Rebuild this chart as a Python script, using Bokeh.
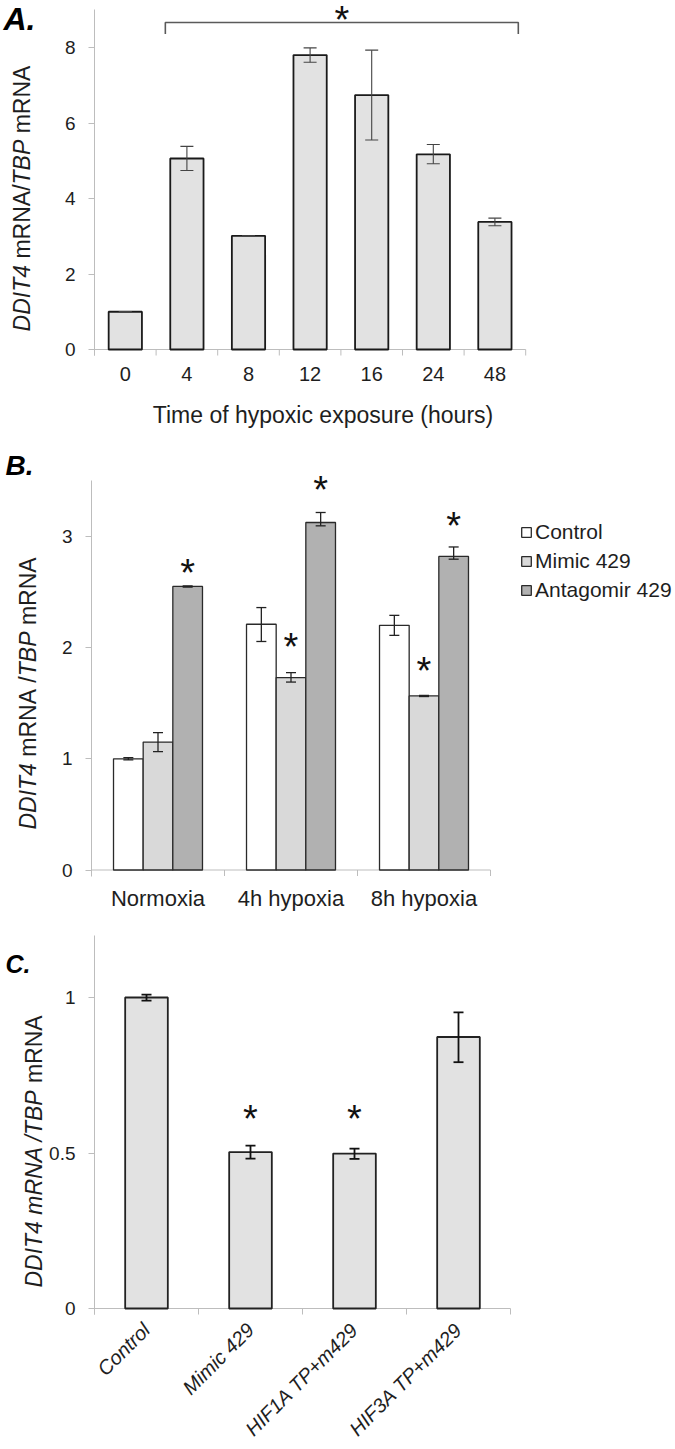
import math
from bokeh.plotting import figure
from bokeh.models import (Range1d, FixedTicker, LinearAxis, ColumnDataSource, Whisker,
                          TeeHead, Label, LabelSet, Legend, LegendItem)
from bokeh.layouts import column
from bokeh.embed import file_html
from bokeh.resources import INLINE
from bokeh.core.properties import value

# ---------------- data ----------------
a_categories = ["0", "4", "8", "12", "16", "24", "48"]
a_values = [1.00, 5.06, 3.01, 7.80, 6.74, 5.17, 3.38]
a_err_low = [0.995, 4.74, 3.005, 7.61, 5.55, 4.92, 3.28]
a_err_high = [1.005, 5.38, 3.015, 7.99, 7.93, 5.43, 3.48]
a_yticks = [0, 2, 4, 6, 8]
a_ymax = 9.0
a_xtitle = "Time of hypoxic exposure (hours)"

b_groups = ["Normoxia", "4h hypoxia", "8h hypoxia"]
b_series = ["Control", "Mimic 429", "Antagomir 429"]
b_control = [1.00, 2.21, 2.20]
b_control_low = [0.99, 2.055, 2.11]
b_control_high = [1.01, 2.36, 2.29]
b_mimic = [1.15, 1.73, 1.565]
b_mimic_low = [1.065, 1.69, 1.56]
b_mimic_high = [1.235, 1.775, 1.57]
b_antago = [2.55, 3.125, 2.82]
b_antago_low = [2.545, 3.095, 2.795]
b_antago_high = [2.555, 3.215, 2.905]
b_yticks = [0, 1, 2, 3]
b_ymax = 3.5
b_star_series = [2, 1, 2, 1, 2]
b_star_group = [0, 1, 1, 2, 2]
b_star_y = [2.73, 2.06, 3.48, 1.85, 3.15]

c_categories = ["Control", "Mimic 429", "HIF1A TP+m429", "HIF3A TP+m429"]
c_values = [1.00, 0.503, 0.498, 0.873]
c_err_low = [0.99, 0.482, 0.481, 0.792]
c_err_high = [1.009, 0.524, 0.514, 0.952]
c_yticks = [0, 0.5, 1]
c_ytick_labels = ["0", "0.5", "1"]
c_ymax = 1.2
c_star_index = [1, 2]
c_star_y = [0.63, 0.63]

# ---------------- style ----------------
FONT = "Liberation Sans"
TXT = "#1e1e1e"
AXIS = "#bdbdbd"
W = 675

CW = {' ': 278, '/': 278, '+': 584, '4': 556, 'A': 667, 'B': 667, 'D': 722, 'I': 278,
      'N': 722, 'P': 667, 'R': 722, 'T': 611, 'm': 833}


def tw(s, size):
    return sum(CW[c] for c in s) / 1000.0 * size


class Panel:
    """Figure whose frame fills the whole canvas; axes sit at fixed data locations."""

    def __init__(self, fig_top, height, axis_left, ppx, y0_page, ppy):
        self.axis_left, self.ppx, self.y0, self.ppy = axis_left, ppx, y0_page, ppy
        x_start = -axis_left / ppx
        x_end = (W - axis_left) / ppx
        y_end = (y0_page - fig_top) / ppy
        y_start = -(fig_top + height - y0_page) / ppy
        self.ylo = -6.0 / ppy  # axis extends 6px below zero (Excel-like)
        p = figure(width=W, height=height, output_backend="svg", toolbar_location=None,
                   x_range=Range1d(x_start, x_end), y_range=Range1d(y_start, y_end),
                   x_axis_type=None, y_axis_type=None, min_border=0,
                   min_border_left=0, min_border_right=0, min_border_top=0,
                   min_border_bottom=0)
        p.outline_line_color = None
        p.background_fill_color = "white"
        p.border_fill_color = "white"
        self.p = p

    def fx(self, px):
        return (px - self.axis_left) / self.ppx

    def fy(self, py):
        return (self.y0 - py) / self.ppy


def add_yaxis(pn, ticks, top, overrides=None):
    ax = LinearAxis(ticker=FixedTicker(ticks=ticks), fixed_location=0, bounds=(pn.ylo, top))
    ax.axis_line_color = AXIS
    ax.major_tick_line_color = AXIS
    ax.major_tick_out = 6
    ax.major_tick_in = 0
    ax.minor_tick_line_color = None
    ax.major_label_text_font = FONT
    ax.major_label_text_font_size = "19px"
    ax.major_label_text_color = TXT
    ax.major_label_standoff = 13
    if overrides:
        ax.major_label_overrides = overrides
    pn.p.add_layout(ax, "left")


def add_xaxis(pn, labels, size, standoff, orientation="horizontal", style="normal"):
    ticks = [i + 0.5 for i in range(len(labels))]
    ax = LinearAxis(ticker=FixedTicker(ticks=ticks), fixed_location=pn.ylo,
                    major_label_overrides={t: l for t, l in zip(ticks, labels)})
    ax.axis_line_color = None
    ax.major_tick_line_color = None
    ax.major_tick_out = 0
    ax.major_tick_in = 0
    ax.minor_tick_line_color = None
    ax.major_label_text_font = FONT
    ax.major_label_text_font_size = f"{size}px"
    ax.major_label_text_font_style = style
    ax.major_label_text_color = TXT
    ax.major_label_standoff = standoff
    ax.major_label_orientation = orientation
    pn.p.add_layout(ax, "below")
    # baseline and category boundary ticks (Excel style)
    n = len(labels)
    pn.p.segment(x0=[0], y0=[0], x1=[n], y1=[0], line_color=AXIS, line_width=1)
    pn.p.segment(x0=list(range(n + 1)), y0=[0] * (n + 1), x1=list(range(n + 1)),
                 y1=[pn.ylo] * (n + 1), line_color=AXIS, line_width=1)


def add_ylabel(pn, pieces, x_page, y_center_page, size=23):
    widths = [tw(t, size) for t, _ in pieces]
    y = pn.fy(y_center_page) - sum(widths) / 2.0 / pn.ppy
    for (t, st), w in zip(pieces, widths):
        lead = len(t) - len(t.lstrip(' '))
        pn.p.add_layout(Label(x=pn.fx(x_page), y=y + tw(' ', size) * lead / pn.ppy,
                              text=t.strip(' '), angle=math.pi / 2,
                              text_align="left", text_baseline="middle",
                              text_font=FONT, text_font_style=st,
                              text_font_size=f"{size}px", text_color=TXT))
        y += w / pn.ppy


def add_letter(pn, letter, left_page, center_page, size):
    pn.p.add_layout(Label(x=pn.fx(left_page), y=pn.fy(center_page), text=letter,
                          text_align="left", text_baseline="middle",
                          text_font=FONT, text_font_style="bold italic",
                          text_font_size=f"{size}px", text_color="#000000"))


STAR_SIZE = 38
STAR_SHIFT = 6.5  # px between text middle anchor and asterisk centre (anchor lies below)


def add_stars(pn, xs, ys):
    src = ColumnDataSource(dict(x=xs, y=[v - STAR_SHIFT / pn.ppy for v in ys], t=["*"] * len(xs)))
    pn.p.add_layout(LabelSet(x="x", y="y", text="t", source=src, text_align="center",
                             text_baseline="middle", text_font=value(FONT),
                             text_font_size=f"{STAR_SIZE}px", text_color="#111111"))


def add_whiskers(pn, xs, lo, hi, size, color, width):
    src = ColumnDataSource(dict(x=xs, lo=lo, hi=hi))
    pn.p.add_layout(Whisker(source=src, base="x", lower="lo", upper="hi", level="overlay",
                            line_color=color, line_width=width,
                            lower_head=TeeHead(size=size, line_color=color, line_width=width),
                            upper_head=TeeHead(size=size, line_color=color, line_width=width)))


# ================= Panel A =================
A = Panel(fig_top=0, height=440, axis_left=94, ppx=61.6, y0_page=349, ppy=37.75)
pa = A.p
add_yaxis(A, a_yticks, a_ymax)
add_xaxis(A, a_categories, 20, 11)
a_x = [i + 0.5 for i in range(len(a_categories))]
pa.vbar(x=a_x, top=a_values, bottom=0, width=0.54, fill_color="#e2e2e2",
        line_color="#1a1a1a", line_width=1.8)
add_whiskers(A, a_x, a_err_low, a_err_high, 13, "#444444", 1.1)
# significance bracket over 4..48 h
bx0, bx1 = 1.15, len(a_categories) - 0.12
pa.multi_line(xs=[[bx0, bx0, bx1, bx1]],
              ys=[[A.fy(33.5), A.fy(22), A.fy(22), A.fy(33.5)]],
              line_color="#5a5a5a", line_width=1.6)
add_stars(A, [(bx0 + bx1) / 2.0], [A.fy(12.5)])
pa.add_layout(Label(x=A.fx(322.5), y=A.fy(414.5), text=a_xtitle, text_align="center",
                    text_baseline="middle", text_font=FONT, text_font_size="23px",
                    text_color=TXT))
add_ylabel(A, [("DDIT4", "italic"), (" mRNA/", "normal"), ("TBP", "italic"), (" mRNA", "normal")],
           21, 198)
add_letter(A, "A.", 3, 18.5, 32)

# ================= Panel B =================
B = Panel(fig_top=440, height=472, axis_left=91, ppx=133, y0_page=869.5, ppy=111.2)
pb = B.p
add_yaxis(B, b_yticks, b_ymax)
add_xaxis(B, b_groups, 22, 10)
offs = [-0.223, 0.0, 0.223]
bw = 0.223
fills = ["#ffffff", "#d9d9d9", "#b1b1b1"]
vals = [b_control, b_mimic, b_antago]
lows = [b_control_low, b_mimic_low, b_antago_low]
highs = [b_control_high, b_mimic_high, b_antago_high]
items = []
for k in range(3):
    xs = [g + 0.5 + offs[k] for g in range(len(b_groups))]
    r = pb.vbar(x=xs, top=vals[k], bottom=0, width=bw, fill_color=fills[k],
                line_color="#2a2a2a", line_width=1.3)
    items.append(LegendItem(label=b_series[k], renderers=[r]))
for k in range(3):
    xs = [g + 0.5 + offs[k] for g in range(len(b_groups))]
    add_whiskers(B, xs, lows[k], highs[k], 10, "#222222", 1.3)
add_stars(B, [g + 0.5 + offs[s] for g, s in zip(b_star_group, b_star_series)], b_star_y)
leg = Legend(items=items, location=(520, 310), orientation="vertical",
             glyph_width=12, glyph_height=12, label_standoff=3, spacing=5,
             padding=0, margin=0, border_line_color=None, background_fill_alpha=0,
             label_text_font=FONT, label_text_font_size="21px", label_height=24,
             label_text_color=TXT)
pb.add_layout(leg)
add_ylabel(B, [("DDIT4", "italic"), (" mRNA", "normal"), (" /", "normal"), ("TBP", "italic"),
               (" mRNA", "normal")], 27, 693)
add_letter(B, "B.", 5, 465, 28)

# ================= Panel C =================
C = Panel(fig_top=912, height=537, axis_left=94, ppx=104, y0_page=1308, ppy=311)
pc = C.p
add_yaxis(C, c_yticks, c_ymax, overrides={t: l for t, l in zip(c_yticks, c_ytick_labels)})
add_xaxis(C, c_categories, 20, 12, orientation=math.pi / 4, style="italic")
c_x = [i + 0.5 for i in range(len(c_categories))]
pc.vbar(x=c_x, top=c_values, bottom=0, width=0.41, fill_color="#e2e2e2",
        line_color="#222222", line_width=1.8)
add_whiskers(C, c_x, c_err_low, c_err_high, 10, "#111111", 1.8)
add_stars(C, [c_x[i] for i in c_star_index], c_star_y)
add_ylabel(C, [("DDIT4 mRNA /TBP", "italic"), (" mRNA", "normal")], 33, 1151)
add_letter(C, "C.", 5, 963.5, 25)

layout = column(pa, pb, pc)
open("out.html", "w").write(file_html(layout, INLINE))
